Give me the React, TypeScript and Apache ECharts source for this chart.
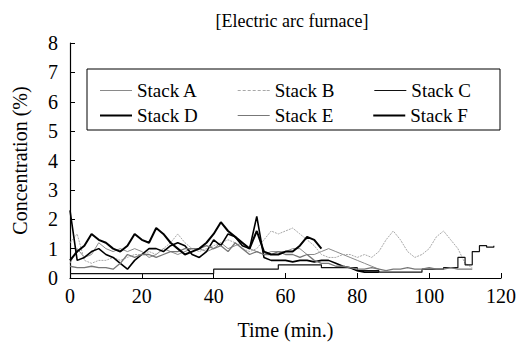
import React, { useEffect, useRef } from "react";
import * as echarts from "echarts";

const times = [0,2,4,6,8,10,12,14,16,18,20,22,24,26,28,30,32,34,36,38,40,42,44,46,48,50,52,54,56,58,60,62,64,66,68,70,72,74,76,78,80,82,84,86,88,90,92,94,96,98,100,102,104,106,108,110,112,114,116,118];

const stackA = [0.5,1.0,0.7,0.8,1.2,1.0,0.9,1.0,0.9,1.0,0.9,0.7,0.8,1.0,0.9,0.8,0.9,1.0,1.0,0.9,1.0,1.2,1.0,1.1,1.2,1.0,0.9,0.8,0.9,0.9,0.9,1.0,1.0,0.8,0.8,0.9,1.0,0.9,0.8,0.7,0.6,0.5,0.4,0.3,null,null,null,null,null,null,null,null,null,null,null,null,null,null,null,null];
const stackB = [1.2,1.5,0.6,0.5,0.6,0.6,0.7,0.6,0.7,0.8,0.8,0.9,0.8,1.0,1.2,1.5,1.2,1.0,0.9,1.0,1.1,1.2,1.3,1.2,1.0,0.9,1.0,1.3,1.6,1.5,1.6,1.7,1.5,1.3,1.1,0.8,0.7,0.7,0.8,0.8,0.7,0.8,0.7,0.9,1.3,1.6,1.3,0.9,0.7,0.8,1.0,1.4,1.6,1.3,1.0,0.5,0.35,null,null,null];
const stackC = [0.15,0.15,0.15,0.15,0.15,0.15,0.15,0.15,0.15,0.15,0.15,0.15,0.15,0.15,0.15,0.15,0.15,0.15,0.15,0.15,0.3,0.3,0.3,0.3,0.3,0.3,0.3,0.3,0.3,0.45,0.45,0.45,0.45,0.45,0.45,0.35,0.35,0.35,0.35,0.35,0.25,0.25,0.25,0.2,0.2,0.2,0.2,0.2,0.2,0.3,0.3,0.3,0.35,0.35,0.7,0.45,0.9,1.1,1.05,1.1];
const stackD = [2.3,0.6,0.7,0.9,1.0,0.8,0.7,0.5,0.3,0.6,0.8,1.0,1.0,0.9,1.1,1.2,1.1,0.8,0.7,0.9,1.3,1.1,1.5,1.4,1.1,1.0,2.1,0.7,0.6,0.6,0.6,0.55,0.6,0.6,0.55,0.6,0.6,0.5,0.4,0.35,0.25,0.2,0.2,0.2,null,null,null,null,null,null,null,null,null,null,null,null,null,null,null,null];
const stackE = [0.4,0.35,0.35,0.4,0.35,0.35,0.3,0.5,0.8,0.7,0.8,0.8,0.7,0.8,0.9,0.9,1.0,1.0,1.0,1.1,1.0,1.1,0.9,1.2,1.0,0.8,0.9,0.8,0.8,0.9,0.8,0.8,0.7,0.8,0.6,0.5,0.5,0.4,0.4,0.35,0.3,0.3,0.35,0.3,0.25,0.3,0.3,0.35,0.3,0.3,0.35,0.3,0.3,0.35,0.3,0.3,0.3,null,null,null];
const stackF = [0.6,0.9,1.1,1.5,1.3,1.2,1.0,0.9,1.1,1.5,1.3,1.2,1.7,1.5,1.2,1.0,0.8,0.9,1.0,1.2,1.5,1.9,1.6,1.4,1.2,1.0,1.6,0.9,0.8,0.8,0.9,0.9,1.1,1.4,1.3,1.0,null,null,null,null,null,null,null,null,null,null,null,null,null,null,null,null,null,null,null,null,null,null,null,null];

const seriesNames = ["Stack A", "Stack B", "Stack C", "Stack D", "Stack E", "Stack F"];
const seriesValues = [stackA, stackB, stackC, stackD, stackE, stackF];
const xTicks = [0, 20, 40, 60, 80, 100, 120];
const yTicks = [0, 1, 2, 3, 4, 5, 6, 7, 8];

const styles = [
  { color: "#8a8a8a", width: 1, type: "solid", step: false },
  { color: "#a8a8a8", width: 1, type: [2, 1], step: false },
  { color: "#111111", width: 1.2, type: "solid", step: "end" },
  { color: "#000000", width: 1.6, type: "solid", step: false },
  { color: "#777777", width: 1.3, type: "solid", step: false },
  { color: "#000000", width: 2, type: "solid", step: false },
];

const FONT = "Liberation Serif";
const THIN_ICON = "path://M0,0 L32,0 L32,1 L0,1 Z";
const THICK_ICON = "path://M0,0 L32,0 L32,2 L0,2 Z";
const DASH_ICON = "path://M0,0h3v1h-3z M5,0h3v1h-3z M10,0h3v1h-3z M15,0h3v1h-3z M20,0h3v1h-3z M25,0h3v1h-3z M29,0h3v1h-3z";
const legendIcons = [THIN_ICON, DASH_ICON, THIN_ICON, THICK_ICON, THIN_ICON, THICK_ICON];

export default function App() {
  const ref = useRef<HTMLDivElement>(null);
  useEffect(() => {
    if (!ref.current) return;
    const chart = echarts.init(ref.current, null, { renderer: "svg" });
    const series = seriesNames.map((name, i) => ({
      name,
      type: "line",
      data: times.map((t, j) => [t, seriesValues[i][j]]),
      showSymbol: false,
      symbol: "none",
      step: styles[i].step,
      connectNulls: false,
      lineStyle: { color: styles[i].color, width: styles[i].width, type: styles[i].type },
      itemStyle: { color: styles[i].color },
      z: 2 + i,
    }));
    const makeLegend = (top: number, idx: number[]) => ({
      orient: "horizontal",
      left: 100,
      top,
      padding: 0,
      itemWidth: 32,
      itemHeight: 14,
      itemGap: 40,
      data: idx.map((i) => ({
        name: seriesNames[i],
        icon: legendIcons[i],
        itemStyle: { color: styles[i].color },
      })),
      itemStyle: { borderWidth: 0 },
      textStyle: { fontFamily: FONT, fontSize: 19, color: "#000", width: 70 },
    });
    chart.setOption({
      animation: false,
      backgroundColor: "#fff",
      title: {
        text: "[Electric arc furnace]",
        left: 287,
        textAlign: "center",
        top: 7,
        textStyle: { fontFamily: FONT, fontSize: 18, fontWeight: "normal", color: "#000" },
      },
      legend: [makeLegend(81, [0, 1, 2]), makeLegend(106, [3, 4, 5])],
      graphic: [
        {
          type: "rect",
          shape: { x: 87, y: 69, width: 413, height: 61 },
          style: { fill: "rgba(0,0,0,0)", stroke: "#000", lineWidth: 1 },
          z: 100,
        },
      ],
      grid: { left: 70, right: 15, top: 43, bottom: 65 },
      xAxis: {
        type: "value",
        min: xTicks[0],
        max: xTicks[xTicks.length - 1],
        interval: 20,
        name: "Time (min.)",
        nameLocation: "middle",
        nameGap: 42,
        nameTextStyle: { fontFamily: FONT, fontSize: 20, color: "#000" },
        axisLine: { lineStyle: { color: "#000", width: 1.2 } },
        axisTick: { inside: true, length: 5, lineStyle: { color: "#000" } },
        axisLabel: { fontFamily: FONT, fontSize: 20, color: "#000", margin: 8 },
        splitLine: { show: false },
      },
      yAxis: {
        type: "value",
        min: yTicks[0],
        max: yTicks[yTicks.length - 1],
        interval: 1,
        name: "Concentration (%)",
        nameLocation: "middle",
        nameGap: 40,
        nameTextStyle: { fontFamily: FONT, fontSize: 20, color: "#000" },
        axisLine: { show: true, lineStyle: { color: "#000", width: 1.2 } },
        axisTick: { show: true, inside: true, length: 5, lineStyle: { color: "#000" } },
        axisLabel: { fontFamily: FONT, fontSize: 20, color: "#000", margin: 12 },
        splitLine: { show: false },
      },
      series,
    });
    return () => chart.dispose();
  }, []);
  return <div ref={ref} style={{ width: 519, height: 345, position: "absolute", left: 0, top: 0 }} />;
}
